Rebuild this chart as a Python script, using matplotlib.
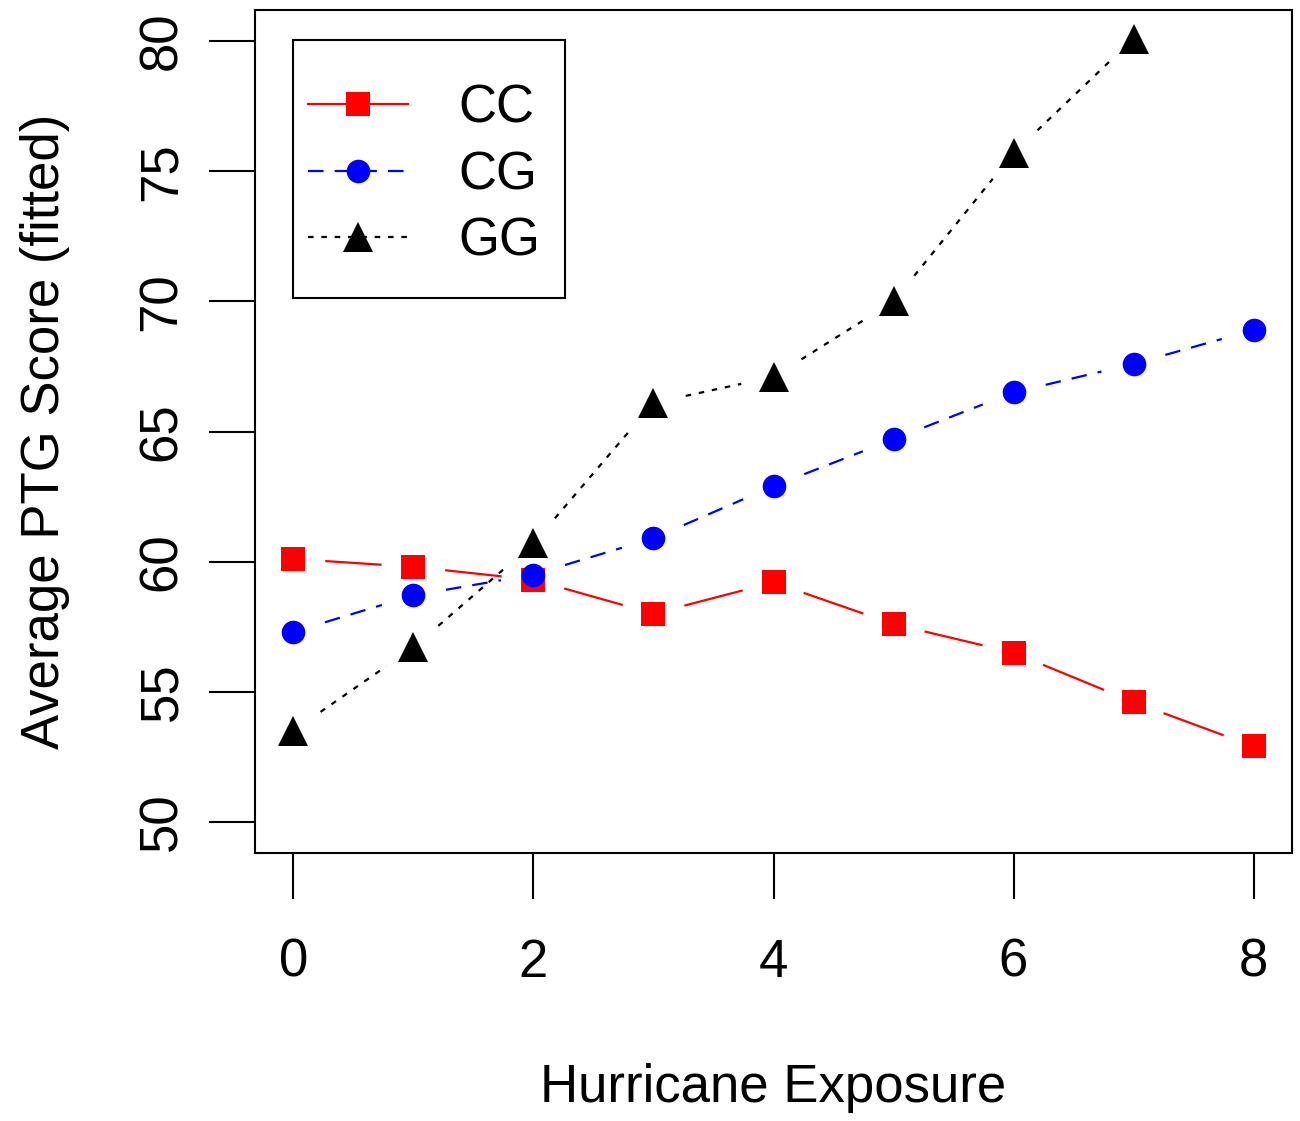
import numpy as np
import matplotlib
matplotlib.use("Agg")
import matplotlib.pyplot as plt
from matplotlib.lines import Line2D
from matplotlib.patches import Rectangle

plt.rcParams['font.family'] = ['Liberation Sans', 'DejaVu Sans']

exposure = [0, 1, 2, 3, 4, 5, 6, 7, 8]
cc = [60.1, 59.8, 59.3, 58.0, 59.2, 57.6, 56.5, 54.6, 52.9]
cg = [57.3, 58.7, 59.5, 60.9, 62.9, 64.7, 66.5, 67.6, 68.9]
gg = [53.5, 56.7, 60.7, 66.1, 67.1, 70.0, 75.7, 80.1]

series = [
    ("CC", exposure, cc, "red", "-", "s", 17),
    ("CG", exposure, cg, "blue", (0, (7, 5)), "o", 17),
    ("GG", exposure[:len(gg)], gg, "black", (0, (2.5, 3.5)), "^", 21),
]

DPI = 100
FS = 38
fig = plt.figure(figsize=(13, 11.21), dpi=DPI)
W, H = 1300, 1121
ax = fig.add_axes([255 / W, (H - 853) / H, 1037 / W, 843 / H])
ax.set_xlim(-0.32, 8.32)
ax.set_ylim(48.8, 81.2)


def gapped(ax, xs, ys, gap, **kw):
    # R type="b": lines stop short of each point
    pts = ax.transData.transform(np.column_stack([xs, ys]))
    inv = ax.transData.inverted()
    for p0, p1 in zip(pts[:-1], pts[1:]):
        d = p1 - p0
        L = np.hypot(*d)
        if L <= 2 * gap:
            continue
        u = d / L
        seg = inv.transform(np.array([p0 + u * gap, p1 - u * gap]))
        ax.plot(seg[:, 0], seg[:, 1], **kw)


for name, xs, ys, col, ls, mk, ms in series:
    gapped(ax, xs, ys, 33, color=col, linestyle=ls, linewidth=1.6)
    ax.plot(xs, ys, linestyle="none", marker=mk, markersize=ms,
            color=col, markeredgewidth=0)

ax.set_xticks([0, 2, 4, 6, 8])
ax.set_yticks([50, 55, 60, 65, 70, 75, 80])
ax.tick_params(axis="both", length=33, width=1.5, labelsize=FS)
ax.tick_params(axis="x", pad=28)
ax.tick_params(axis="y", labelrotation=90, pad=16)
for lbl in ax.get_yticklabels():
    lbl.set_va("center")
for sp in ax.spines.values():
    sp.set_linewidth(1.5)

ax.set_xlabel("Hurricane Exposure", fontsize=FS, labelpad=54)
ax.set_ylabel("Average PTG Score (fitted)", fontsize=FS, labelpad=48)

# legend frame drawn separately so the padding can match R's legend()
fig.add_artist(Rectangle((293 / W, 1 - 298 / H), (565 - 293) / W,
                         (298 - 40) / H, transform=fig.transFigure,
                         fill=False, edgecolor="black", linewidth=1.5))
handles = [Line2D([0], [0], color=c, linestyle=ls, linewidth=1.6, marker=mk,
                  markersize=ms, markeredgewidth=0)
           for _, _, _, c, ls, mk, ms in series]
leg = ax.legend(handles, [s[0] for s in series], loc="center left",
                bbox_to_anchor=(308 / W, 1 - 175 / H),
                bbox_transform=fig.transFigure, fontsize=FS, frameon=False,
                handlelength=1.9, handletextpad=0.95, labelspacing=0.32,
                borderpad=0, borderaxespad=0)

fig.savefig("out.png", dpi=DPI)
